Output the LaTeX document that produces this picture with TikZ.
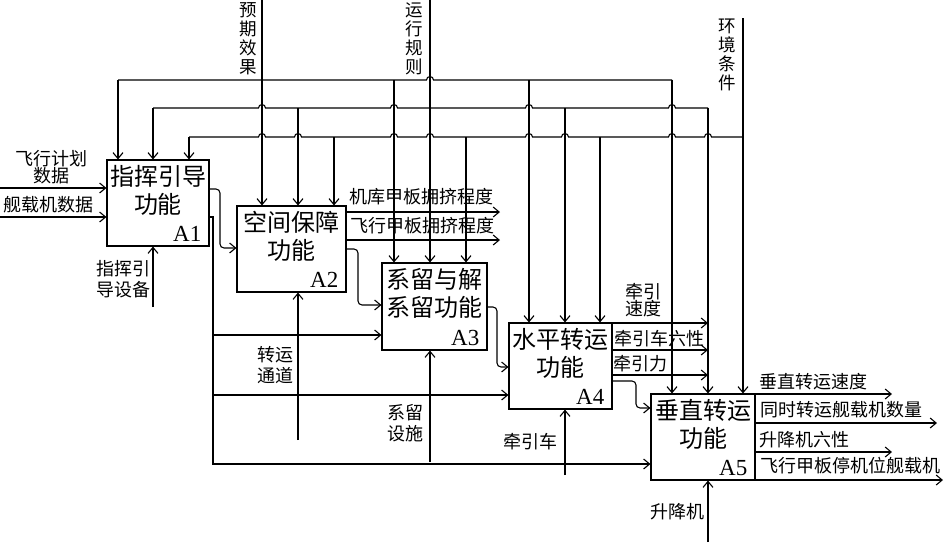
\documentclass[tikz,border=0pt]{standalone}
\usepackage{fontspec}
\setmainfont{Liberation Serif}
\newfontfamily\cjk{Noto Sans CJK SC}
\usepackage{tikz}
\usetikzlibrary{arrows.meta,positioning}

\begin{document}
\begin{tikzpicture}[
  x=1pt,y=-1pt,
  ln/.style={line width=1.1pt},
  arr/.style={ln,-{Straight Barb[length=6pt,width=10pt]}},
  fbox/.style={rectangle,draw,line width=1.1pt,minimum height=86pt,inner sep=0pt},
  ftxt/.style={font=\cjk\fontsize{24}{28}\selectfont,align=center,inner sep=0pt},
  fid/.style={font=\fontsize{23}{23}\selectfont,inner sep=0pt},
  lbl/.style={font=\cjk\fontsize{18}{21.5}\selectfont,align=center,inner sep=0pt},
  lblt/.style={font=\cjk\fontsize{18}{17}\selectfont,align=center,inner sep=0pt},
  vlbl/.style={font=\cjk\fontsize{17.5}{19}\selectfont,align=center,inner sep=0pt}
]
  \useasboundingbox (0,0) rectangle (946,542);
  % ---------------- FUNCTION BOXES ----------------
  \node[fbox,minimum width=102pt] (A1) at (158,203) {};
  \node[fbox,minimum width=109pt] (A2) at (291.5,249) {};
  \node[fbox,minimum width=105pt,minimum height=87pt] (A3) at (434.5,306.5) {};
  \node[fbox,minimum width=103pt] (A4) at (560.5,366) {};
  \node[fbox,minimum width=104pt] (A5) at (703,437) {};
  \node[ftxt,below=6pt of A1.north] (A1t) {指挥引导\\功能};
  \node[ftxt,below=6pt of A2.north] (A2t) {空间保障\\功能};
  \node[ftxt,below=6pt of A3.north] (A3t) {系留与解\\系留功能};
  \node[ftxt,below=6pt of A4.north] (A4t) {水平转运\\功能};
  \node[ftxt,below=6pt of A5.north] (A5t) {垂直转运\\功能};
  \foreach \b in {A1,A2,A3,A4,A5}{
    \node[fid,above left=5pt and 8pt of \b.south east] (\b-id) {\b};}
  % ---------------- CONTROLS ----------------
  \coordinate (c1) at (262,0);
  \coordinate (c2) at (430,0);
  \coordinate (c3) at (743,18);
  \node[vlbl] (c1l) at (248.5,39) {预\\期\\效\\果};
  \node[vlbl] (c2l) at (414.5,39) {运\\行\\规\\则};
  \node[vlbl] (c3l) at (727.5,55) {环\\境\\条\\件};
  \draw[arr] (c1) -- (A2.north -| c1);
  \draw[arr] (c2) -- (A3.north -| c2);
  \draw[arr] (c3) -- (A5.north -| c3);
  \coordinate (bus1) at (0,80);
  \coordinate (bus2) at (0,108);
  \coordinate (bus3) at (0,137);
  % buses, hop over crossing lines
  \draw[ln] (118,80) foreach \c in {430}{ -- (\c-3.5,80) arc[start angle=180,end angle=360,radius=3.5]} -- (672,80);
  \draw[ln] (153,108) foreach \c in {262,394,529,672}{ -- (\c-3.5,108) arc[start angle=180,end angle=360,radius=3.5]} -- (708,108);
  \draw[ln] (189,137) foreach \c in {262,298,394,430,529,565,672,708}{ -- (\c-3.5,137) arc[start angle=180,end angle=360,radius=3.5]} -- (c3 |- bus3);
  \foreach \x/\b in {118/A1,394/A3,529/A4,672/A5}{\draw[arr] (\x,0 |- bus1) -- (\b.north -| \x,0);}
  \foreach \x/\b in {153/A1,298/A2,565/A4,708/A5}{\draw[arr] (\x,0 |- bus2) -- (\b.north -| \x,0);}
  \foreach \x/\b in {189/A1,334/A2,466/A3,600/A4}{\draw[arr] (\x,0 |- bus3) -- (\b.north -| \x,0);}
  % ---------------- INPUTS ----------------
  \coordinate (i1) at (0,188);
  \coordinate (i2) at (0,217);
  \draw[arr] (i1) -- (A1.west |- i1);
  \draw[arr] (i2) -- (A1.west |- i2);
  \node[lblt] (i1l) at (52,167) {飞行计划\\数据};
  \node[lbl] (i2l) at (49,205) {舰载机数据};
  % ---------------- LINKS ----------------
  \draw[arr,rounded corners=4pt] (A1.east |- 0,189) -| (220,248) -- (A2.west |- 0,248);
  \draw[arr] (A1.east |- 0,217) -| (213,464) -- (A5.west |- 0,464);
  \draw[arr] (213,335) -- (A3.west |- 0,335);
  \draw[arr] (213,395) -- (A4.west |- 0,395);
  \draw[arr,rounded corners=4pt] (A2.east |- 0,249) -| (358,305) -- (A3.west |- 0,305);
  \draw[arr,rounded corners=4pt] (A3.east |- 0,307) -| (497,367) -- (A4.west |- 0,367);
  \draw[arr,rounded corners=4pt] (A4.east |- 0,381) -| (636,408) -- (A5.west |- 0,408);
  % ---------------- OUTPUTS ----------------
  \coordinate (o21) at (500,212);
  \coordinate (o22) at (500,240);
  \draw[arr] (A2.east |- o21) -- (o21);
  \draw[arr] (A2.east |- o22) -- (o22);
  \node[lbl] (o21l) at (421,197) {机库甲板拥挤程度};
  \node[lbl] (o22l) at (422,226) {飞行甲板拥挤程度};
  \coordinate (o41) at (708,323);
  \coordinate (o42) at (708,350);
  \coordinate (o43) at (708,375);
  \foreach \o in {o41,o42,o43}{\draw[arr] (A4.east |- \o) -- (\o);}
  \node[lblt] (o41l) at (643.5,300) {牵引\\速度};
  \node[lbl] (o42l) at (659,339) {牵引车六性};
  \node[lbl] (o43l) at (640.5,364) {牵引力};
  \coordinate (o51) at (892,394);
  \coordinate (o52) at (937,423);
  \coordinate (o53) at (892,452);
  \coordinate (o54) at (943,480);
  \foreach \o in {o51,o52,o53,o54}{\draw[arr] (A5.east |- \o) -- (\o);}
  \node[lbl] (o51l) at (813,382) {垂直转运速度};
  \node[lbl] (o52l) at (841.5,410) {同时转运舰载机数量};
  \node[lbl] (o53l) at (804,440) {升降机六性};
  \node[lbl] (o54l) at (850.5,466) {飞行甲板停机位舰载机};
  % ---------------- MECHANISMS ----------------
  \coordinate (m1) at (153,307);
  \coordinate (m2) at (298,440);
  \coordinate (m3) at (430,462);
  \coordinate (m4) at (565,475);
  \coordinate (m5) at (708,542);
  \draw[arr] (m1) -- (A1.south -| m1);
  \draw[arr] (m2) -- (A2.south -| m2);
  \draw[arr] (m3) -- (A3.south -| m3);
  \draw[arr] (m4) -- (A4.south -| m4);
  \draw[arr] (m5) -- (A5.south -| m5);
  \node[lbl] (m1l) at (123,279) {指挥引\\导设备};
  \node[lbl] (m2l) at (275,365) {转运\\通道};
  \node[lbl] (m3l) at (405,423) {系留\\设施};
  \node[lbl] (m4l) at (530,442) {牵引车};
  \node[lbl] (m5l) at (677.5,512) {升降机};
\end{tikzpicture}
\end{document}
